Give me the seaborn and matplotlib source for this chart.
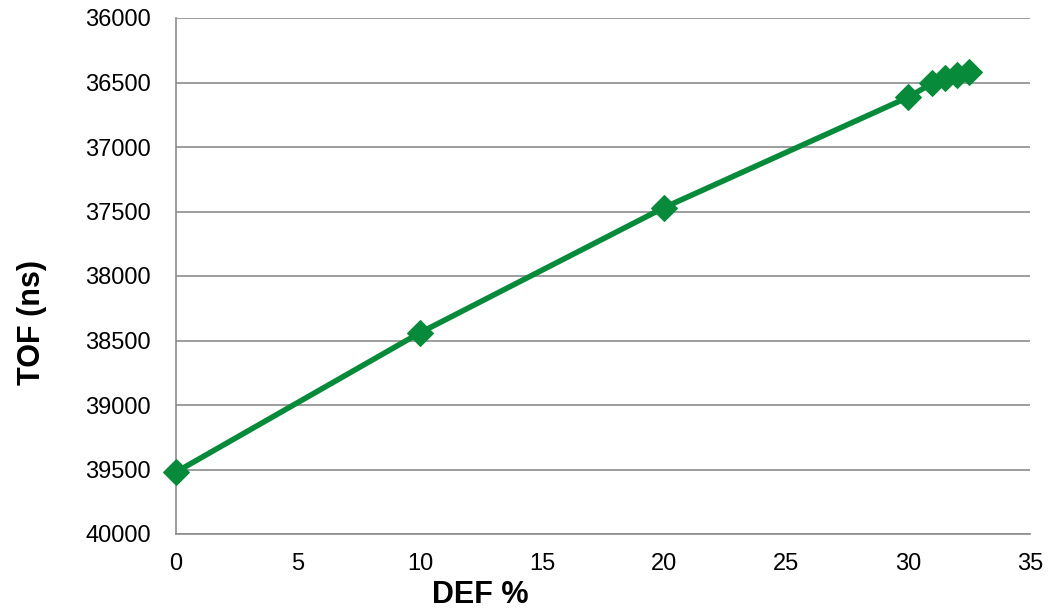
import matplotlib
matplotlib.use("Agg")
import matplotlib.pyplot as plt
import seaborn as sns
import pandas as pd

# values
def_pct = [0, 10, 20, 30, 31, 31.5, 32, 32.5]
tof_ns = [39520, 38440, 37470, 36615, 36505, 36465, 36440, 36415]

df = pd.DataFrame({"DEF %": def_pct, "TOF (ns)": tof_ns})

sns.set_style("white")
plt.rcParams["font.family"] = ["Liberation Sans", "DejaVu Sans"]
plt.rcParams["text.color"] = "black"
plt.rcParams["axes.labelcolor"] = "black"

fig = plt.figure(figsize=(10.6, 6.1), dpi=100)
ax = fig.add_axes([176 / 1060, 1 - 534 / 610, (1030 - 176) / 1060, (534 - 18) / 610])

green = "#078B3A"
sns.lineplot(data=df, x="DEF %", y="TOF (ns)", ax=ax, color=green, linewidth=4,
             marker="D", markersize=13.5, markeredgecolor=green, zorder=3, clip_on=False)

ax.set_xlim(0, 35)
ax.set_ylim(40000, 36000)
ax.set_xticks(range(0, 36, 5))
ax.set_yticks(range(36000, 40001, 500))
ax.yaxis.grid(True, color="#8c8c8c", linewidth=1.2)
ax.xaxis.grid(False)
for s in ["top", "right"]:
    ax.spines[s].set_visible(False)
for s in ["left", "bottom"]:
    ax.spines[s].set_color("#8c8c8c")
    ax.spines[s].set_linewidth(1.2)
ax.tick_params(axis="both", direction="out", length=6, width=1.2, color="#8c8c8c",
               labelsize=17, labelcolor="black")
ax.tick_params(axis="y", pad=12)
ax.tick_params(axis="x", pad=8)
ax.set_xlabel("DEF %", fontsize=22, fontweight="bold")
ax.set_ylabel("TOF (ns)", fontsize=22, fontweight="bold")
ax.xaxis.set_label_coords(0.356, -0.09)
ax.yaxis.set_label_coords(-0.151, 0.409)

fig.savefig("out.png", dpi=100)
